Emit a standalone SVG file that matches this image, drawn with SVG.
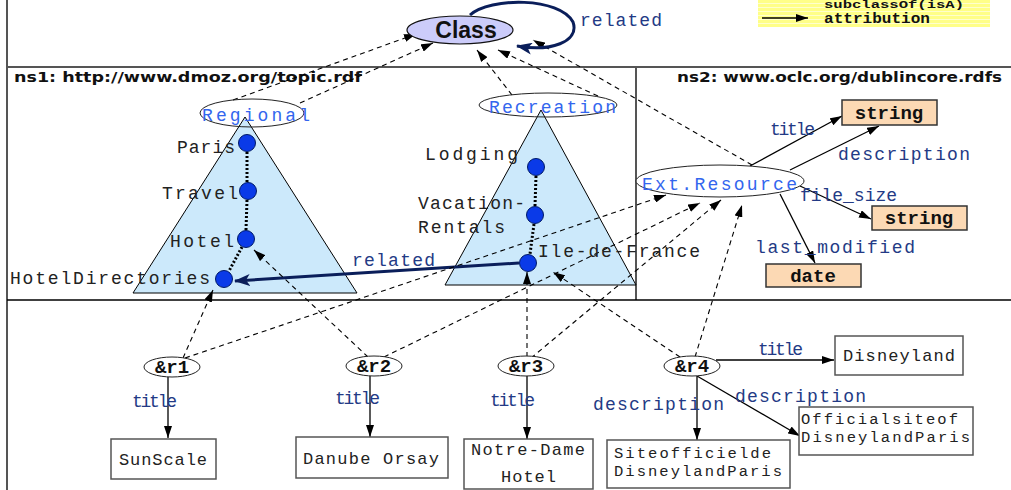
<svg xmlns="http://www.w3.org/2000/svg" width="1011" height="490" viewBox="0 0 1011 490">
<style>
.frame{stroke:#555;stroke-width:2;fill:none}
.lbl{font-family:"Liberation Mono","Courier New",monospace;font-size:18px;fill:#222}
.prop{font-family:"Liberation Mono","Courier New",monospace;font-size:18px;fill:#233a85}
.cls{font-family:"Liberation Mono","Courier New",monospace;font-size:18px;fill:#3366ee}
.hdr{font-family:"DejaVu Sans","Verdana",sans-serif;font-size:14.5px;font-weight:bold;fill:#111}
.tri{fill:#cce9fb;stroke:#000;stroke-width:1}
.dot{fill:#0a3ae8;stroke:#001a66;stroke-width:1}
.dotted{stroke:#000;stroke-width:3;stroke-dasharray:2 2;fill:none}
.dash{stroke:#000;stroke-width:1.1;stroke-dasharray:5 4;fill:none;marker-end:url(#ah)}
.solid{stroke:#000;stroke-width:1.3;fill:none;marker-end:url(#ah)}
.rel{stroke:#0a1e5a;stroke-width:3;fill:none;marker-end:url(#ahn)}
.box{fill:#fff;stroke:#555;stroke-width:1.5}
.pbox{fill:#fcd9b4;stroke:#333;stroke-width:1.5}
.btxt{font-family:"Liberation Mono","Courier New",monospace;font-size:17px;fill:#222}
.btxt2{font-family:"Liberation Mono","Courier New",monospace;font-size:15.5px;fill:#222}
.bold{font-family:"Liberation Mono","Courier New",monospace;font-weight:bold;fill:#111}
.ell{fill:none;stroke:#222;stroke-width:1}
.rell{fill:#fff;stroke:#222;stroke-width:1}
</style>
<defs>
<marker id="ah" viewBox="0 0 12 8" refX="12" refY="4" markerWidth="12" markerHeight="8" markerUnits="userSpaceOnUse" orient="auto"><path d="M0,0 L12,4 L0,8 z" fill="#000"/></marker>
<marker id="ahn" viewBox="0 0 16 12" refX="15" refY="6" markerWidth="16" markerHeight="12" markerUnits="userSpaceOnUse" orient="auto"><path d="M0,0 L16,6 L0,12 L4,6 z" fill="#0a1e5a"/></marker>
<pattern id="stripe" width="4" height="4" patternUnits="userSpaceOnUse"><rect width="4" height="4" fill="#ffff88"/><rect y="3" width="4" height="1" fill="#ffffcc"/></pattern>
</defs>

<g id="frame">
<line class="frame" x1="7" y1="0" x2="7" y2="490"/>
<line class="frame" x1="7" y1="67" x2="1011" y2="67"/>
<line class="frame" x1="636" y1="67" x2="636" y2="300"/>
<line x1="7" y1="300" x2="1011" y2="300" stroke="#000" stroke-width="1.5"/>
</g>

<g id="legend">
<rect x="758" y="0" width="232" height="27" fill="url(#stripe)"/>
<text class="bold" x="824" y="8" font-size="10" textLength="140" lengthAdjust="spacingAndGlyphs">subclassOf(isA)</text>
<line x1="762" y1="18" x2="808" y2="18" stroke="#000" stroke-width="1.5" marker-end="url(#ah)"/>
<text class="bold" x="824" y="23" font-size="14" textLength="106" lengthAdjust="spacingAndGlyphs">attribution</text>
</g>

<text class="hdr" x="14" y="82" textLength="348" lengthAdjust="spacingAndGlyphs">ns1: http://www.dmoz.org/topic.rdf</text>
<text class="hdr" x="677" y="82" textLength="325" lengthAdjust="spacingAndGlyphs">ns2: www.oclc.org/dublincore.rdfs</text>

<g id="triangles">
<polygon class="tri" points="245,117 357,293 133,293"/>
<polygon class="tri" points="541,110 636,285 445,285"/>
</g>

<g id="connectors">
<line class="dash" x1="233" y1="100" x2="416" y2="34"/>
<line class="dash" x1="300" y1="103" x2="433" y2="43"/>
<line class="dash" x1="512" y1="95" x2="477" y2="50"/>
<line class="dash" x1="598" y1="96" x2="498" y2="50"/>
<line class="dash" x1="752" y1="165" x2="533" y2="40"/>
<path class="rel" d="M470,15 C490,-3 560,-3 573,22 C580,42 550,52 517,46"/>
<line class="dotted" x1="247" y1="152" x2="247" y2="182"/>
<line class="dotted" x1="247" y1="200" x2="246" y2="230"/>
<line class="dotted" x1="242" y1="247" x2="229" y2="271"/>
<line class="dotted" x1="536" y1="176" x2="535" y2="206"/>
<line class="dotted" x1="534" y1="224" x2="530" y2="254"/>
<line class="rel" x1="519" y1="263" x2="235" y2="281"/>
<line class="dash" x1="183" y1="358" x2="213" y2="290"/>
<line class="dash" x1="368" y1="357" x2="254" y2="250"/>
<line class="dash" x1="527" y1="357" x2="527" y2="272"/>
<line class="dash" x1="680" y1="357" x2="553" y2="272"/>
<line class="dash" x1="185" y1="358" x2="666" y2="195"/>
<line class="dash" x1="384" y1="357" x2="700" y2="203"/>
<line class="dash" x1="531" y1="358" x2="721" y2="200"/>
<line class="dash" x1="695" y1="357" x2="742" y2="205"/>
<line class="solid" x1="750" y1="166" x2="842" y2="116"/>
<line class="solid" x1="790" y1="170" x2="879" y2="126"/>
<line class="solid" x1="800" y1="186" x2="871" y2="219"/>
<line class="solid" x1="780" y1="194" x2="815" y2="263"/>
<line class="solid" x1="168" y1="377" x2="168" y2="438"/>
<line class="solid" x1="370" y1="376" x2="370" y2="437"/>
<line class="solid" x1="527" y1="376" x2="527" y2="439"/>
<line class="solid" x1="697" y1="376" x2="697" y2="440"/>
<line class="solid" x1="716" y1="360" x2="834" y2="360"/>
<line class="solid" x1="697" y1="376" x2="800" y2="436"/>
</g>

<g id="class">
<ellipse cx="460" cy="30" rx="53" ry="14" fill="#ccccfa" stroke="#111" stroke-width="1.2"/>
<text x="466" y="38" text-anchor="middle" font-family="Liberation Sans, Arial, sans-serif" font-weight="bold" font-size="23" fill="#111">Class</text>
<text class="prop" x="580" y="26" textLength="82" lengthAdjust="spacing">related</text>
</g>

<g id="regional">
<ellipse class="ell" cx="252" cy="113" rx="52" ry="14"/>
<text class="cls" x="202" y="121" textLength="108" lengthAdjust="spacing">Regional</text>
</g>
<g id="recreation">
<ellipse class="ell" cx="548" cy="105" rx="69" ry="12"/>
<text class="cls" x="489" y="113" textLength="127" lengthAdjust="spacing">Recreation</text>
</g>

<g id="paris"><circle class="dot" cx="247" cy="143" r="8.5"/><text class="lbl" x="177" y="153" textLength="58" lengthAdjust="spacing">Paris</text></g>
<g id="travel"><circle class="dot" cx="248" cy="191" r="8.5"/><text class="lbl" x="162" y="199" textLength="76" lengthAdjust="spacing">Travel</text></g>
<g id="hotel"><circle class="dot" cx="246" cy="239" r="8.5"/><text class="lbl" x="170" y="247" textLength="64" lengthAdjust="spacing">Hotel</text></g>
<g id="hoteldirectories"><circle class="dot" cx="224" cy="279" r="8.5"/><text class="lbl" x="10" y="284" textLength="200" lengthAdjust="spacing">HotelDirectories</text></g>
<g id="lodging"><circle class="dot" cx="536" cy="167" r="8.5"/><text class="lbl" x="425" y="160" textLength="93" lengthAdjust="spacing">Lodging</text></g>
<g id="vacation"><circle class="dot" cx="535" cy="215" r="8.5"/><text class="lbl" x="418" y="209" textLength="107" lengthAdjust="spacing">Vacation-</text><text class="lbl" x="418" y="233" textLength="87" lengthAdjust="spacing">Rentals</text></g>
<g id="iledefrance"><circle class="dot" cx="528" cy="263" r="8.5"/><text class="lbl" x="538" y="257" textLength="162" lengthAdjust="spacing">Ile-de-France</text></g>
<text class="prop" x="352" y="266" textLength="83" lengthAdjust="spacing">related</text>

<g id="extresource">
<ellipse class="rell" cx="720" cy="181" rx="84" ry="16"/>
<text class="cls" x="642" y="190" textLength="155" lengthAdjust="spacing">Ext.Resource</text>
</g>
<g id="string1"><rect class="pbox" x="842" y="100" width="95" height="25"/><text class="bold" x="889" y="119" font-size="19" text-anchor="middle">string</text></g>
<g id="string2"><rect class="pbox" x="872" y="206" width="95" height="24"/><text class="bold" x="919" y="224" font-size="19" text-anchor="middle">string</text></g>
<g id="date"><rect class="pbox" x="766" y="264" width="95" height="23"/><text class="bold" x="813" y="282" font-size="19" text-anchor="middle">date</text></g>
<text class="prop" x="770" y="135" textLength="45" lengthAdjust="spacing">title</text>
<text class="prop" x="838" y="160" textLength="132" lengthAdjust="spacing">description</text>
<text class="prop" x="800" y="201" textLength="97" lengthAdjust="spacing">file_size</text>
<text class="prop" x="755" y="253" textLength="160" lengthAdjust="spacing">last_modified</text>

<g id="r1"><ellipse class="rell" cx="172" cy="367" rx="28" ry="10"/><text class="bold" x="172" y="373" font-size="19" text-anchor="middle">&amp;r1</text></g>
<g id="r2"><ellipse class="rell" cx="374" cy="366" rx="28" ry="10"/><text class="bold" x="374" y="372" font-size="19" text-anchor="middle">&amp;r2</text></g>
<g id="r3"><ellipse class="rell" cx="526" cy="366" rx="28" ry="10"/><text class="bold" x="526" y="372" font-size="19" text-anchor="middle">&amp;r3</text></g>
<g id="r4"><ellipse class="rell" cx="692" cy="366" rx="28" ry="10"/><text class="bold" x="692" y="372" font-size="19" text-anchor="middle">&amp;r4</text></g>

<text class="prop" x="132" y="407" textLength="45" lengthAdjust="spacing">title</text>
<text class="prop" x="335" y="404" textLength="45" lengthAdjust="spacing">title</text>
<text class="prop" x="490" y="406" textLength="45" lengthAdjust="spacing">title</text>
<text class="prop" x="593" y="410" textLength="131" lengthAdjust="spacing">description</text>
<text class="prop" x="758" y="355" textLength="45" lengthAdjust="spacing">title</text>
<text class="prop" x="735" y="402" textLength="131" lengthAdjust="spacing">description</text>

<g id="sunscale"><rect class="box" x="111" y="439" width="105" height="40"/><text class="btxt" x="119" y="465" textLength="88" lengthAdjust="spacing">SunScale</text></g>
<g id="danube"><rect class="box" x="296" y="437" width="152" height="41"/><text class="btxt" x="303" y="464" textLength="136" lengthAdjust="spacing">Danube Orsay</text></g>
<g id="notredame"><rect class="box" x="464" y="439" width="129" height="50"/><text class="btxt" x="471" y="455" textLength="114" lengthAdjust="spacing">Notre-Dame</text><text class="btxt" x="501" y="482" textLength="55" lengthAdjust="spacing">Hotel</text></g>
<g id="siteofficiel"><rect class="box" x="607" y="440" width="183" height="48"/><text class="btxt2" x="614" y="458" textLength="157" lengthAdjust="spacing">Siteofficielde</text><text class="btxt2" x="614" y="476" textLength="168" lengthAdjust="spacing">DisneylandParis</text></g>
<g id="disneyland"><rect class="box" x="835" y="336" width="128" height="39"/><text class="btxt" x="843" y="361" textLength="112" lengthAdjust="spacing">Disneyland</text></g>
<g id="official"><rect class="box" x="799" y="407" width="174" height="48"/><text class="btxt2" x="801" y="424" textLength="157" lengthAdjust="spacing">Officialsiteof</text><text class="btxt2" x="801" y="442" textLength="169" lengthAdjust="spacing">DisneylandParis</text></g>
</svg>
